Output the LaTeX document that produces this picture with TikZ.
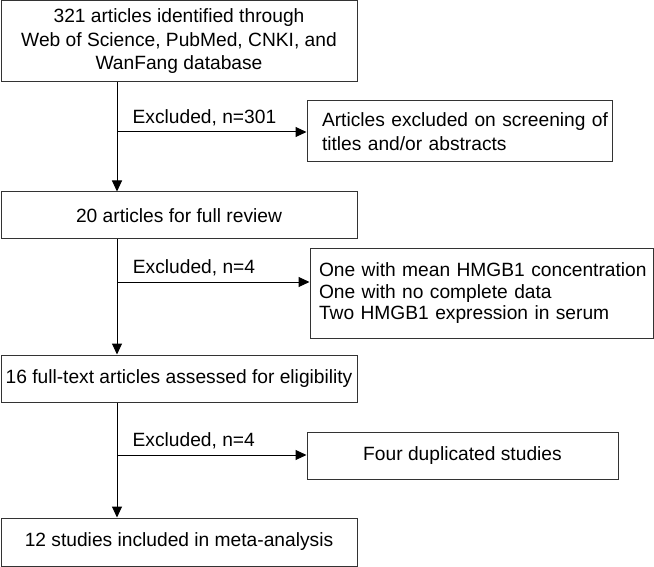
\documentclass[tikz,border=0pt]{standalone}
\usepackage{fontspec}
\setmainfont{Liberation Sans}
\usetikzlibrary{arrows.meta}
\newcommand{\ind}[2]{\mbox{\hspace*{#1}#2}}
\tikzset{
  box/.style={draw=black!80, line width=1pt, inner sep=0pt, align=center,
              font=\fontsize{19.2}{23.5}\selectfont},
  lbox/.style={box, align=left},
  flow/.style={line width=1pt, -{Triangle[length=11pt,width=10pt]}},
  lbl/.style={anchor=south west, inner sep=0pt, font=\fontsize{19.2}{23.5}\selectfont}
}

\begin{document}
\begin{tikzpicture}[x=1pt,y=-1pt]
   \useasboundingbox (0,0) rectangle (654,567);
   % main column
   \node[box, minimum width=356pt, minimum height=81pt] (found) at (179,41.5)
        {321 articles identified through\\Web of Science, PubMed, CNKI, and\\WanFang database};
   \node[box, minimum width=356pt, minimum height=47pt] (review) at (179,215.5)
        {20 articles for full review};
   \node[box, minimum width=356pt, minimum height=47pt] (eligible) at (179,378.5)
        {16 full-text articles assessed for eligibility};
   \node[box, minimum width=356pt, minimum height=48pt] (included) at (179,542)
        {12 studies included in meta-analysis};
   % exclusion boxes
   \node[lbox, minimum width=305pt, minimum height=61pt, text width=303pt] (excl1) at (459.5,131.5)
        {\ind{14pt}{Articles excluded on screening of}\\\ind{14pt}{titles and/or abstracts}};
   \node[lbox, minimum width=343pt, minimum height=89pt, text width=341pt,
         font=\fontsize{19.2}{21.5}\selectfont] (excl2) at (481.5,293.5)
        {\ind{8pt}{One with mean HMGB1 concentration}\\\ind{8pt}{One with no complete data}\\\ind{8pt}{Two HMGB1 expression in serum}};
   \node[box, minimum width=311pt, minimum height=47pt] (excl3) at (462.5,455.5)
        {Four duplicated studies};
   % branch points on the trunk
   \coordinate (j1) at (117,132);
   \coordinate (j2) at (117,282);
   \coordinate (j3) at (117,455);
   \draw[flow] (found.south -| j1) -- (review.north -| j1);
   \draw[flow] (review.south -| j1) -- (eligible.north -| j1);
   \draw[flow] (eligible.south -| j1) -- (included.north -| j1);
   \draw[flow] (j1) -- (j1 -| excl1.west) node[pos=0.08,lbl,yshift=6pt] {Excluded, n=301};
   \draw[flow] (j2) -- (j2 -| excl2.west) node[pos=0.08,lbl,yshift=6pt] {Excluded, n=4};
   \draw[flow] (j3) -- (j3 -| excl3.west) node[pos=0.08,lbl,yshift=6pt] {Excluded, n=4};
\end{tikzpicture}
\end{document}
